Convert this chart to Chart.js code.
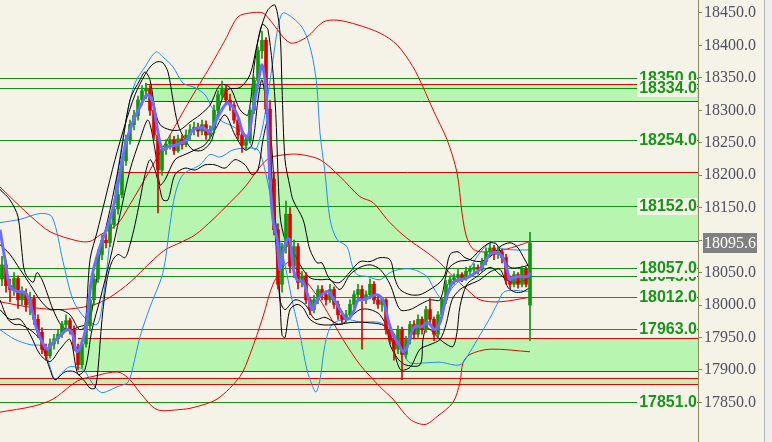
<!DOCTYPE html>
<html>
<head>
<meta charset="utf-8">
<script src="https://cdn.jsdelivr.net/npm/chart.js@4.4.1/dist/chart.umd.min.js"></script>
<style>
  html, body { margin: 0; padding: 0; background: #f5f3e7; }
  #wrap { position: relative; width: 772px; height: 442px; overflow: hidden; }
  #side { position: absolute; left: 764px; top: 0; width: 8px; height: 442px; background: #eeeeee; border-left: 1px solid #b4b4b4; box-sizing: border-box; }
  canvas { position: absolute; left: 0; top: 0; }
</style>
</head>
<body>
<div id="wrap">
  <canvas id="chart" width="764" height="442"></canvas>
  <div id="side"></div>
</div>
<script>
// candles, one per slot (bar i sits at x = i + 0.5)
const opens = [
  18040,18062,18030,18024,18041,18008,18018,18000,18010,17978,
  17958,17932,17922,17940,17948,17955,17970,17976,17962,17935,
  17908,17940,17968,18008,18040,18078,18100,18096,18124,18148,
  18170,18222,18255,18278,18292,18316,18330,18334,18300,18262,
  18208,18240,18248,18255,18238,18256,18247,18262,18270,18274,
  18268,18278,18262,18270,18300,18324,18332,18316,18308,18285,
  18262,18246,18255,18300,18346,18392,18408,18302,18194,18116,
  18032,18090,18140,18060,18090,18035,18045,18008,17993,18008,
  18024,18016,18008,18024,18001,17985,17978,17985,18001,18016,
  18024,18008,18016,18032,18008,18001,18008,17962,17947,17932,
  17962,17924,17947,17970,17955,17978,17962,17993,17978,17955,
  17985,18008,18032,18039,18042,18047,18042,18052,18055,18058,
  18055,18067,18082,18088,18078,18082,18073,18039,18032,18047,
  18032,18055,18000
];
const highs = [
  18075,18068,18040,18050,18045,18028,18025,18020,18015,17985,
  17965,17940,17948,17955,17962,17975,17985,17980,17968,17940,
  17945,17972,18012,18048,18085,18108,18110,18130,18155,18178,
  18228,18262,18285,18300,18322,18338,18342,18338,18310,18270,
  18245,18255,18262,18260,18262,18262,18270,18278,18282,18280,
  18285,18284,18276,18308,18330,18345,18338,18325,18312,18292,
  18268,18262,18305,18352,18398,18422,18412,18315,18205,18125,
  18095,18160,18150,18100,18095,18052,18050,18012,18015,18030,
  18030,18022,18032,18028,18006,17990,17992,18008,18022,18032,
  18030,18022,18040,18036,18015,18012,18010,17968,17955,17968,
  17966,17952,17975,17976,17985,17982,17998,18010,17982,17990,
  18012,18038,18045,18048,18055,18050,18058,18060,18064,18062,
  18072,18088,18095,18092,18090,18086,18078,18045,18052,18050,
  18060,18058,18112
];
const lows = [
  18030,18020,18005,18015,17995,18000,17990,17985,17970,17950,
  17925,17915,17918,17932,17940,17950,17962,17955,17930,17900,
  17903,17935,17960,18000,18035,18070,18088,18090,18118,18140,
  18165,18215,18248,18270,18285,18308,18318,18292,18255,18142,
  18200,18232,18240,18232,18235,18240,18244,18255,18262,18260,
  18262,18255,18256,18265,18295,18318,18310,18300,18280,18255,
  18235,18238,18250,18295,18340,18380,18295,18188,18108,18025,
  18020,18080,18050,18042,18025,18028,18002,17985,17988,18002,
  18008,18000,18004,17995,17978,17970,17972,17980,17996,18010,
  17932,18002,18010,18002,17995,17990,17955,17940,17915,17925,
  17885,17918,17940,17948,17950,17955,17958,17972,17945,17950,
  17980,18002,18026,18032,18038,18036,18038,18046,18050,18048,
  18052,18062,18076,18070,18072,18065,18032,18025,18028,18026,
  18028,18028,17945
];
const closes = [
  18062,18030,18024,18041,18008,18018,18000,18010,17978,17958,
  17932,17922,17940,17948,17955,17970,17976,17962,17935,17908,
  17940,17968,18008,18040,18078,18100,18096,18124,18148,18170,
  18222,18255,18278,18292,18316,18330,18334,18300,18262,18208,
  18240,18248,18255,18238,18256,18247,18262,18270,18274,18268,
  18278,18262,18270,18300,18324,18332,18316,18308,18285,18262,
  18246,18255,18300,18346,18392,18408,18302,18194,18116,18032,
  18090,18140,18060,18090,18035,18045,18008,17993,18008,18024,
  18016,18008,18024,18001,17985,17978,17985,18001,18016,18024,
  18008,18016,18032,18008,18001,18008,17962,17947,17932,17962,
  17924,17947,17970,17955,17978,17962,17993,17978,17955,17985,
  18008,18032,18039,18042,18047,18042,18052,18055,18058,18055,
  18067,18082,18088,18078,18082,18073,18039,18032,18047,18032,
  18055,18032,18095.6
];

// indicator lines: [slot position, price]
const maLine = [[0,18116],[1.25,18070],[2.5,18028],[4.25,18021],[6.25,18019],[7.5,18004],[9.25,17962],[11.75,17932],[13.25,17942],[16.75,17962],[18,17958],[19.25,17928],[21.25,17958],[23,18044],[25,18090],[27.5,18132],[28.75,18162],[30,18204],[31.25,18244],[32.5,18270],[33.75,18290],[35,18305],[36.25,18321],[37,18324],[38.25,18311],[39.25,18275],[40,18250],[40.75,18239],[42,18244],[44.25,18247],[46.75,18255],[48.25,18270],[50.75,18273],[52.5,18267],[53.25,18275],[55,18296],[56.75,18311],[58.25,18305],[59.5,18290],[60.75,18265],[62,18259],[63.25,18301],[64.5,18342],[65.5,18370],[66.5,18332],[67.5,18193],[68.25,18132],[69.25,18101],[70,18055],[70.75,18081],[71.75,18101],[72.5,18101],[73.25,18059],[74.25,18039],[75.75,18036],[76.75,18019],[78,17993],[79.25,18008],[80.5,18016],[82,18021],[83.25,18011],[85,17993],[86.75,17978],[88.25,17988],[89.5,18008],[90.75,18008],[92.5,18012],[94.25,18016],[95.75,18008],[97,17978],[98.25,17954],[99.5,17942],[100.75,17928],[101.75,17935],[102.5,17951],[103.75,17967],[105.5,17967],[107,17973],[108.75,17962],[110,17973],[111.25,18004],[112,18019],[113.25,18035],[115,18039],[116.75,18042],[118.25,18047],[120,18055],[121.25,18067],[122.5,18078],[124.25,18081],[125.75,18073],[126.75,18055],[127.5,18039],[128.25,18042],[130,18044],[132,18044],[132.5,18050]];

const blackUpperOuter = [[0,18178],[2.5,18162],[4.5,18136],[5.5,18081],[6.25,18050],[8.25,18035],[9.25,18050],[10.5,18039],[11.75,18019],[13.25,17993],[15.5,17967],[17.5,17962],[20,17967],[21.25,17970],[22.5,18070],[24.25,18112],[26.25,18162],[28.75,18224],[31.25,18278],[33.75,18324],[36.25,18355],[38,18370],[39.5,18375],[40.75,18373],[42,18359],[43.25,18316],[44.5,18278],[46.25,18255],[48.25,18239],[50.75,18239],[53,18255],[55,18308],[57,18332],[60,18335],[62.5,18355],[64.25,18401],[65.5,18432],[67,18455],[68.75,18462],[70,18419],[70.5,18336],[71.25,18224],[72.5,18182],[73.25,18162],[75.75,18132],[76.75,18105],[77.5,18085],[79.25,18065],[80.5,18065],[82,18044],[83.25,18036],[85,18035],[87.5,18051],[90,18067],[92.5,18067],[95,18073],[97.5,18070],[98.75,18040],[100,18024],[102.5,18016],[105,18016],[107.5,18024],[110,18035],[111.25,18047],[112.5,18078],[114.5,18082],[116.25,18073],[120,18067],[123.25,18078],[125,18090],[127.5,18096],[129.25,18090],[130.75,18075],[132.5,18055]];
const blackLowerOuter = [[0,18008],[2,17978],[3.75,17970],[5,17970],[7.5,17962],[10,17947],[11.25,17924],[12.5,17901],[13.75,17885],[16.25,17897],[18.75,17897],[21.25,17882],[22.5,17872],[23.75,17872],[24.5,17901],[25.5,17978],[26.75,18039],[28,18067],[29.5,18078],[31.25,18073],[32.5,18093],[33.75,18124],[35,18162],[36.25,18201],[37.5,18224],[38.75,18208],[40,18178],[40.75,18162],[42,18162],[43.75,18201],[46.25,18211],[48.75,18208],[51.25,18216],[53.75,18216],[56.25,18211],[58.75,18224],[61.25,18216],[63,18201],[64.5,18208],[65.75,18255],[67,18285],[68,18239],[69,18116],[70,18008],[70.5,17954],[71.25,17950],[72.5,17993],[74.25,18001],[75.75,17996],[77.5,17978],[80,17970],[84.25,17970],[87.5,17973],[91.75,17973],[96.25,17967],[97.5,17939],[99.25,17919],[101.25,17908],[105,17908],[105.75,17947],[106.75,17965],[110,17947],[111.75,17939],[113.25,17936],[114.25,17958],[115,17998],[116.75,18032],[119.25,18044],[122.5,18058],[125,18047],[127.5,18036],[130,18036],[132.5,18042]];
const blackUpperInner = [[0,18093],[2.5,18078],[5,18055],[7.5,18032],[10,18008],[12.5,17993],[15,17993],[17.5,17985],[20,17962],[22.5,17978],[25,18078],[27.5,18147],[30,18224],[32.5,18316],[35,18347],[36.25,18359],[37.5,18347],[38.75,18301],[40,18278],[42.5,18270],[45,18270],[47.5,18282],[50,18293],[52.5,18308],[55,18339],[57.5,18335],[60,18301],[62,18293],[63.75,18378],[65.5,18432],[67,18424],[68.75,18316],[70,18139],[71.25,18101],[72.5,18093],[75,18062],[77.5,18042],[80,18039],[82.5,18039],[85,18024],[87.5,18047],[90,18058],[92.5,18062],[95,18055],[97.5,18032],[100,17993],[102.5,17993],[105,18001],[107.5,18008],[110,18008],[112,18055],[114.5,18067],[117.5,18070],[120,18085],[122.5,18096],[124.25,18093],[125.75,18073],[127.5,18058],[130,18058],[132.5,18062]];
const blackLowerInner = [[0,17993],[2.5,17978],[5,17978],[7.5,17955],[10,17924],[12.5,17913],[15,17932],[17.5,17947],[19.5,17893],[21.25,17901],[23,17962],[25,18008],[27.5,18070],[30,18139],[32.5,18208],[35,18255],[37,18285],[38.75,18239],[40,18185],[41.25,18193],[43.75,18224],[46.25,18232],[48.75,18239],[51.25,18247],[53.75,18270],[56.25,18293],[58.75,18262],[61.25,18239],[63,18247],[64.5,18316],[65.5,18347],[67,18285],[68.75,18116],[70,18008],[71.25,17993],[73.75,18008],[76.25,18001],[78.75,17978],[81.25,17981],[85,17970],[87.5,17981],[90,17993],[92.5,17993],[95,17985],[97.5,17955],[100,17901],[102.5,17904],[105,17932],[107.5,17939],[110,17947],[111.5,17970],[113,18008],[115,18024],[117.5,18032],[120,18039],[122.5,18051],[125,18055],[127,18027],[128.75,18020],[130.5,18020],[132.5,18027]];

const blueUpper = [[0,18127],[5,18132],[10,18141],[13,18136],[15.75,18067],[18.25,18008],[21.25,17980],[24.25,17970],[25.75,18008],[27.5,18101],[29.5,18208],[32,18301],[33.75,18342],[36.25,18367],[39,18390],[40.75,18382],[43.25,18367],[45.75,18342],[48.75,18335],[51.25,18324],[53,18304],[55,18285],[58,18276],[61.25,18262],[63.75,18239],[65.5,18270],[67,18324],[68.25,18378],[69.5,18428],[70.75,18450],[73.25,18442],[75.5,18428],[77,18408],[78.25,18378],[79.25,18336],[80,18265],[81.25,18204],[82.5,18132],[84.25,18101],[86.75,18090],[88,18062],[89.25,18047],[91.75,18044],[95,18039],[97.5,18050],[100,18055],[103.25,18055],[106.75,18044],[108.25,18028],[110.75,18008],[113.25,18028],[116.75,18050],[120,18081],[123.25,18098],[125,18088],[128.25,18085],[132.5,18085]];
const blueLower = [[0,17962],[3.75,17947],[7.5,17939],[10.75,17936],[12.5,17905],[13.75,17885],[15.5,17896],[17.5,17905],[20.75,17901],[22.5,17885],[24.25,17870],[25.75,17865],[29.25,17874],[32,17881],[33.25,17905],[35,17951],[37.5,17997],[40.75,18050],[42.5,18124],[43.75,18170],[45.75,18201],[50,18216],[52.5,18232],[55,18228],[58.25,18239],[61.75,18242],[64.5,18239],[66.25,18208],[68.75,18132],[71.25,18062],[73.25,18001],[75,17954],[76.75,17900],[78,17877],[79,17866],[80,17885],[81.25,17939],[83,17970],[86.25,17978],[90,17974],[95,17973],[98.25,17959],[100.75,17927],[102.5,17911],[106.75,17911],[110,17912],[115,17908],[117.5,17928],[120,17954],[122.5,17980],[124.25,18001],[126.25,18021],[132.5,18021]];

const redUpper = [[0,18182],[2.5,18167],[5,18152],[8,18135],[12.5,18113],[19.25,18099],[22.5,18098],[25,18108],[29.25,18124],[32.5,18155],[37.5,18208],[42.5,18262],[47.5,18316],[52.5,18367],[56.25,18408],[59.5,18444],[62.5,18450],[65.75,18450],[67.5,18439],[72.5,18404],[76.75,18413],[80.75,18436],[84.25,18439],[89.25,18432],[95,18419],[99.25,18401],[103.25,18367],[105.75,18336],[108.25,18301],[111.75,18255],[114.25,18204],[115.5,18142],[116.5,18108],[118,18088],[120,18082],[125,18084],[128.75,18090],[132.5,18098]];
const redMiddle = [[0,18005],[8.25,17996],[15,17993],[20,17996],[23.75,18001],[27.5,18012],[32.5,18035],[37.5,18065],[41.25,18085],[45,18096],[48.75,18108],[53.25,18132],[57.5,18158],[61.25,18182],[65,18213],[67.5,18227],[71.75,18232],[75,18232],[80,18224],[85,18198],[90,18167],[93.25,18158],[96.75,18132],[100,18112],[103.25,18096],[106.75,18081],[110,18065],[113.25,18044],[116.75,18024],[120,18008],[125,18005],[132.5,18012]];
const redLower = [[0,17835],[8.25,17844],[13.25,17855],[17.5,17875],[20,17885],[23.25,17890],[27.5,17896],[30,17896],[32.5,17885],[35,17865],[39.25,17839],[45,17839],[48.25,17842],[54.25,17855],[60,17890],[62.5,17924],[65.75,17982],[68.25,18032],[71.75,18065],[74.25,18055],[76.75,18035],[80,18008],[82.5,17982],[85.75,17947],[90,17908],[95,17874],[98.25,17855],[102.5,17824],[106.25,17816],[109.25,17828],[113.25,17850],[115,17881],[115.75,17911],[117.5,17924],[122.5,17932],[132.5,17928]];

// horizontal levels
const greenLevels = [18350, 18334, 18254, 18152, 18045, 18057, 18012, 17963, 17851];
const redLevels = [18341, 18315, 18205, 18099, 17950, 17899, 17887, 17878];
const redLevelStart = [36.25, 36.25, 29.25, 29.25, 19.5, 19.5, 0, 0];
const zoneLow = [18315, 18099, 17899, 17878];
const zoneHigh = [18341, 18205, 17950, 17887];
const zoneStart = [36.25, 29.25, 19.5, 0];
const tickValues = [17850, 17900, 17950, 18000, 18050, 18100, 18150, 18200, 18250, 18300, 18350, 18400, 18450];

const BG = '#f5f3e7';
const UP = '#0a9a0a';
const DOWN = '#e00000';
const RED = '#ee0000';
const BLUE = '#1e8cff';
const BLACK = '#000000';
const PURPLE = '#6c6cff';
const ZONE = '#b8f5b0';
const LEVEL_GREEN = '#129412';
const LABEL_GREEN = '#17971a';
const AXIS = '#8a8a5e';

const toPts = arr => arr.map(([x, y]) => ({ x, y }));
const line = (pts, color, width, order) => ({
  type: 'line', data: toPts(pts), borderColor: color, borderWidth: width,
  pointRadius: 0, tension: 0.3, fill: false, order
});
const candleColors = closes.map((c, i) => c >= opens[i] ? UP : DOWN);

// zones and horizontal levels under the candles
const levels = {
  id: 'levels',
  beforeDatasetsDraw(chart) {
    const { ctx, chartArea: { left, right }, scales: { x, y } } = chart;
    ctx.save();
    ctx.fillStyle = ZONE;
    zoneLow.forEach((lo, i) => {
      const x0 = x.getPixelForValue(zoneStart[i]);
      const y0 = Math.round(y.getPixelForValue(zoneHigh[i]));
      const y1 = Math.round(y.getPixelForValue(lo));
      ctx.fillRect(x0, y0, right - x0, y1 - y0);
    });
    ctx.lineWidth = 1;
    ctx.strokeStyle = RED;
    redLevels.forEach((v, i) => {
      const yp = Math.round(y.getPixelForValue(v)) + 0.5;
      ctx.beginPath();
      ctx.moveTo(x.getPixelForValue(redLevelStart[i]), yp);
      ctx.lineTo(right, yp);
      ctx.stroke();
    });
    ctx.strokeStyle = LEVEL_GREEN;
    greenLevels.forEach(v => {
      const yp = Math.round(y.getPixelForValue(v)) + 0.5;
      ctx.beginPath();
      ctx.moveTo(left, yp);
      ctx.lineTo(right, yp);
      ctx.stroke();
    });
    ctx.restore();
  }
};

// level captions and the last price box
const captions = {
  id: 'captions',
  afterDraw(chart) {
    const { ctx, chartArea: { right }, scales: { y } } = chart;
    ctx.save();
    ctx.font = 'bold 16px "Liberation Sans", Arial, sans-serif';
    ctx.textAlign = 'right';
    ctx.textBaseline = 'middle';
    greenLevels.forEach(v => {
      const txt = v.toFixed(1);
      const yp = Math.round(y.getPixelForValue(v));
      const w = ctx.measureText(txt).width;
      ctx.fillStyle = BG;
      ctx.fillRect(right - w - 3, yp - 8, w + 2, 17);
      ctx.fillStyle = LABEL_GREEN;
      ctx.fillText(txt, right - 1, yp + 1);
    });

    const last = closes[closes.length - 1];
    const yl = Math.round(y.getPixelForValue(last));
    ctx.fillStyle = '#808080';
    ctx.fillRect(right + 5, yl - 10, 54, 20);
    ctx.font = '16px "Liberation Serif", "Times New Roman", serif';
    ctx.textAlign = 'left';
    ctx.fillStyle = '#ffffff';
    ctx.fillText(last.toFixed(1), right + 6, yl + 1);
    ctx.restore();
  }
};

new Chart(document.getElementById('chart'), {
  type: 'bar',
  data: {
    datasets: [
      line(redUpper, RED, 1, 6),
      line(redMiddle, RED, 1, 6),
      line(redLower, RED, 1, 6),
      line(blueUpper, BLUE, 1, 5),
      line(blueLower, BLUE, 1, 5),
      line(blackUpperOuter, BLACK, 1, 4),
      line(blackLowerOuter, BLACK, 1, 4),
      line(blackUpperInner, BLACK, 1, 4),
      line(blackLowerInner, BLACK, 1, 4),
      {
        type: 'bar', order: 3, grouped: false, barThickness: 1,
        data: closes.map((c, i) => ({ x: i + 0.5, y: [lows[i], highs[i]] })),
        backgroundColor: candleColors, borderWidth: 0
      },
      {
        type: 'bar', order: 2, grouped: false, barThickness: 3,
        data: closes.map((c, i) => ({ x: i + 0.5, y: [opens[i], c] })),
        backgroundColor: candleColors, borderWidth: 0
      },
      line(maLine, PURPLE, 3, 1)
    ]
  },
  options: {
    responsive: false,
    animation: false,
    devicePixelRatio: 1,
    events: [],
    layout: { padding: 0 },
    plugins: { legend: { display: false }, tooltip: { enabled: false } },
    scales: {
      x: { type: 'linear', min: 0, max: 174.5, offset: false, display: false },
      y: {
        position: 'right',
        min: 17789, max: 18470,
        afterBuildTicks: s => { s.ticks = tickValues.map(v => ({ value: v })); },
        afterFit: s => { s.width = 66; s.paddingTop = 0; s.paddingBottom = 0; },
        ticks: {
          autoSkip: false,
          padding: 2,
          color: '#50505f',
          font: { family: '"Liberation Serif", "Times New Roman", serif', size: 16 },
          callback: v => Number(v).toFixed(1)
        },
        grid: { drawOnChartArea: false, tickLength: 4, color: AXIS },
        border: { color: AXIS }
      }
    }
  },
  plugins: [levels, captions]
});
</script>
</body>
</html>
